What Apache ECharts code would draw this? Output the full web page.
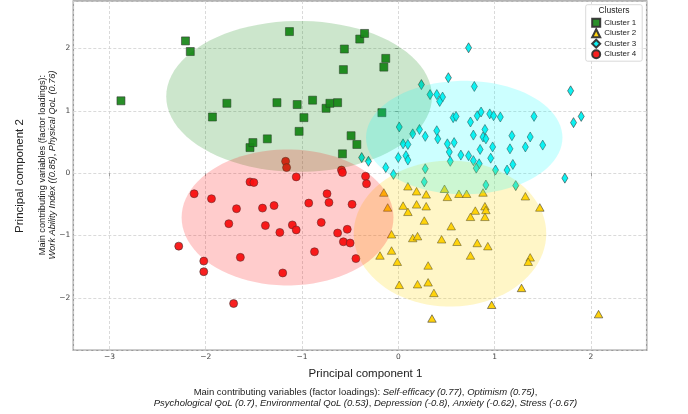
<!DOCTYPE html>
<html>
<head>
<meta charset="utf-8">
<script src="https://cdn.jsdelivr.net/npm/echarts@6/dist/echarts.min.js"></script>
<style>
  html, body { margin: 0; padding: 0; background: #fff; }
  #main { width: 688px; height: 414px; }
</style>
</head>
<body>
<div id="main"></div>
<script>
// PCA scores per cluster, [PC1, PC2]
const cluster1 = [
  [-2.88, 1.16], [-2.21, 2.12], [-2.16, 1.95], [-1.93, 0.90], [-1.78, 1.12],
  [-1.54, 0.41], [-1.51, 0.49], [-1.36, 0.55], [-1.26, 1.13], [-1.13, 2.27],
  [-1.05, 1.10], [-0.98, 0.89], [-1.03, 0.67], [-0.89, 1.17], [-0.75, 1.04],
  [-0.71, 1.12], [-0.63, 1.13], [-0.56, 1.99], [-0.57, 1.66], [-0.40, 2.15],
  [-0.35, 2.24], [-0.13, 1.84], [-0.15, 1.70], [-0.17, 0.97], [-0.49, 0.60],
  [-0.43, 0.46], [-0.58, 0.31]
];
const cluster2 = [
  [-0.15, -0.31], [-0.11, -0.55], [0.10, -0.21], [0.19, -0.29], [0.29, -0.34],
  [0.48, -0.25], [0.51, -0.38], [0.63, -0.33], [0.71, -0.33], [0.88, -0.31],
  [0.05, -0.52], [0.10, -0.62], [0.19, -0.50], [0.29, -0.53], [0.27, -0.76],
  [0.55, -0.85], [0.80, -0.60], [0.75, -0.70], [0.90, -0.53], [0.91, -0.59],
  [0.90, -0.70], [-0.07, -0.98], [0.15, -1.04], [0.20, -1.01], [0.45, -1.06],
  [0.61, -1.10], [0.82, -1.12], [0.93, -1.17], [-0.07, -1.24], [-0.19, -1.32],
  [-0.01, -1.42], [0.31, -1.48], [0.75, -1.32], [0.01, -1.79], [0.20, -1.78],
  [0.31, -1.75], [0.37, -1.92], [0.97, -2.11], [0.35, -2.33], [1.32, -0.37],
  [1.47, -0.55], [1.37, -1.35], [1.35, -1.42], [1.28, -1.84], [2.08, -2.26]
];
const cluster3 = [
  [0.73, 2.01], [0.52, 1.53], [0.24, 1.42], [0.79, 1.39], [1.79, 1.32],
  [0.33, 1.26], [0.40, 1.26], [0.46, 1.22], [0.43, 1.15], [0.57, 0.89],
  [0.60, 0.91], [0.75, 0.82], [0.82, 0.92], [0.86, 0.98], [0.95, 0.95],
  [0.99, 0.92], [1.06, 0.90], [1.41, 0.91], [1.82, 0.81], [1.90, 0.91],
  [0.01, 0.74], [0.15, 0.63], [0.22, 0.70], [0.28, 0.59], [0.40, 0.68],
  [0.41, 0.55], [0.78, 0.61], [0.90, 0.70], [0.88, 0.58], [0.91, 0.55],
  [1.18, 0.60], [1.37, 0.58], [0.05, 0.47], [0.10, 0.46], [0.51, 0.47],
  [0.58, 0.49], [0.85, 0.38], [0.98, 0.42], [1.16, 0.39], [1.32, 0.42],
  [1.50, 0.45], [-0.38, 0.25], [-0.31, 0.19], [0.00, 0.25], [0.08, 0.28],
  [0.10, 0.21], [0.53, 0.34], [0.54, 0.19], [0.65, 0.29], [0.73, 0.28],
  [0.78, 0.20], [0.84, 0.15], [0.81, 0.08], [0.96, 0.24], [1.01, 0.05],
  [1.13, 0.05], [1.19, 0.14], [-0.13, 0.09], [-0.05, -0.02], [0.28, 0.07],
  [0.27, -0.14], [0.91, -0.19], [1.22, -0.20], [1.73, -0.08]
];
const cluster4 = [
  [-1.17, 0.19], [-1.16, 0.09], [-1.06, -0.06], [-1.54, -0.14], [-1.50, -0.15],
  [-2.12, -0.33], [-1.94, -0.41], [-1.68, -0.57], [-1.41, -0.56], [-1.29, -0.52],
  [-0.93, -0.48], [-0.74, -0.33], [-0.72, -0.47], [-1.76, -0.81], [-1.38, -0.84],
  [-1.23, -0.95], [-1.10, -0.83], [-1.06, -0.91], [-0.80, -0.79], [-2.28, -1.17],
  [-2.02, -1.41], [-2.02, -1.58], [-1.64, -1.35], [-1.20, -1.60], [-0.87, -1.26],
  [-1.71, -2.09], [-0.59, 0.05], [-0.58, 0.01], [-0.34, -0.05], [-0.33, -0.17],
  [-0.48, -0.50], [-0.53, -0.90], [-0.63, -0.96], [-0.57, -1.10], [-0.50, -1.12],
  [-0.44, -1.37]
];

// cluster ellipses: [centre x, centre y, half width, half height]
const ellipses = [
  [-1.03, 1.23, 1.38, 1.21],
  [0.537, -0.97, 1.00, 1.17],
  [0.685, 0.57, 1.02, 0.91],
  [-1.15, -0.71, 1.10, 1.09]
];
const clusterNames = ['Cluster 1', 'Cluster 2', 'Cluster 3', 'Cluster 4'];
const markerColors = ['#1E891E', '#FFD000', '#00F0F0', '#F81414'];
const ellipseColors = [
  'rgba(0,128,0,0.2)', 'rgba(255,215,0,0.22)',
  'rgba(0,255,255,0.2)', 'rgba(255,0,0,0.2)'
];

const xRange = [-3.375, 2.58];
const yRange = [-2.84, 2.76];

const outerFont = '"Liberation Sans", Arial, sans-serif';
const innerFont = '"DejaVu Sans", sans-serif';

var myChart = echarts.init(document.getElementById('main'), null, { renderer: 'canvas' });

function minusLabel(v) {
  return v < 0 ? '\u2212' + Math.abs(v) : String(v);
}

function renderEllipse(params, api) {
  const cx = api.value(0), cy = api.value(1), rx = api.value(2), ry = api.value(3);
  const pts = [];
  for (let k = 0; k < 90; k++) {
    const t = k / 90 * Math.PI * 2;
    pts.push(api.coord([cx + rx * Math.cos(t), cy + ry * Math.sin(t)]));
  }
  return {
    type: 'polygon',
    shape: { points: pts },
    style: { fill: ellipseColors[params.dataIndex] },
    silent: true
  };
}

const axisCommon = {
  type: 'value',
  splitLine: { show: true, lineStyle: { color: '#d0d0d0', width: 0.8, type: [3, 2] } },
  axisLine: { show: false },
  axisTick: { show: true, length: 3, lineStyle: { color: '#888', width: 0.8 } },
  axisLabel: {
    fontSize: 7.5, color: '#444', fontFamily: innerFont, margin: 3,
    showMinLabel: false, showMaxLabel: false, formatter: minusLabel
  }
};

const symbols = ['rect', 'triangle', 'diamond', 'circle'];
const sizes = [8, [8.5, 7.5], [6, 10], 8];
const allClusters = [cluster1, cluster2, cluster3, cluster4];

const scatterSeries = allClusters.map(function (data, i) {
  return {
    name: clusterNames[i],
    type: 'scatter',
    data: data,
    symbol: symbols[i],
    symbolSize: sizes[i],
    z: 2,
    itemStyle: { color: markerColors[i], borderColor: '#333', borderWidth: 0.6, opacity: 0.95 }
  };
});

const richText = {
  n: { fontSize: 9.5, fontFamily: outerFont, fill: '#222' },
  i: { fontSize: 9.5, fontFamily: outerFont, fontStyle: 'italic', fill: '#222' }
};
const richTextY = {
  n: { fontSize: 9.2, fontFamily: outerFont, fill: '#222' },
  i: { fontSize: 9.2, fontFamily: outerFont, fontStyle: 'italic', fill: '#222' }
};

var option = {
  animation: false,
  backgroundColor: '#fff',
  grid: {
    left: 73.3, right: 41.3, top: 1, bottom: 63.7,
    show: true, borderColor: '#9a9a9a', borderWidth: 1.5, backgroundColor: 'transparent'
  },
  xAxis: Object.assign({}, axisCommon, { min: xRange[0], max: xRange[1] }),
  yAxis: Object.assign({}, axisCommon, { min: yRange[0], max: yRange[1] }),
  legend: {
    data: clusterNames,
    orient: 'vertical',
    left: 585.7, top: 4.7,
    padding: [13, 6, 2, 5.5],
    itemGap: 0.5,
    itemWidth: 8, itemHeight: 8,
    borderColor: '#cfcfcf', borderWidth: 0.8, borderRadius: 2,
    backgroundColor: 'rgba(255,255,255,0.85)',
    textStyle: { fontSize: 8, color: '#222', fontFamily: outerFont, padding: [0, 0, 0, -1] }
  },
  graphic: [
    { type: 'text', x: 614, y: 10.5, z: 100,
      style: { text: 'Clusters', font: '8.5px ' + outerFont, fill: '#222',
        textAlign: 'center', textVerticalAlign: 'middle' } },
    { type: 'text', x: 365.5, y: 373.7,
      style: { text: 'Principal component 1', font: '11.5px ' + outerFont, fill: '#222',
        textAlign: 'center', textVerticalAlign: 'middle' } },
    { type: 'text', x: 365.5, y: 392,
      style: {
        text: '{n|Main contributing variables (factor loadings): }{i|Self-efficacy (0.77)}{n|, }{i|Optimism (0.75)}{n|,}',
        textAlign: 'center', textVerticalAlign: 'middle', rich: richText
      } },
    { type: 'text', x: 365.5, y: 403.7,
      style: {
        text: '{i|Psychological QoL (0.7)}{n|, }{i|Environmental QoL (0.53)}{n|, }{i|Depression (-0.8)}{n|, }{i|Anxiety (-0.62)}{n|, }{i|Stress (-0.67)}',
        textAlign: 'center', textVerticalAlign: 'middle', rich: richText
      } },
    { type: 'text', x: 20, y: 176, rotation: Math.PI / 2,
      style: { text: 'Principal component 2', font: '11.5px ' + outerFont, fill: '#222',
        textAlign: 'center', textVerticalAlign: 'middle' } },
    { type: 'text', x: 42.5, y: 165, rotation: Math.PI / 2,
      style: {
        text: '{n|Main contributing variables (factor loadings):}',
        textAlign: 'center', textVerticalAlign: 'middle', rich: richTextY
      } },
    { type: 'text', x: 52.5, y: 165, rotation: Math.PI / 2,
      style: {
        text: '{i|Work Ability Index ((0.85)}{n|, }{i|Physical QoL (0.76)}',
        textAlign: 'center', textVerticalAlign: 'middle', rich: richTextY
      } }
  ],
  series: scatterSeries.concat([{
    name: 'ellipses',
    type: 'custom',
    renderItem: renderEllipse,
    data: ellipses,
    encode: { x: 0, y: 1 },
    z: 3,
    silent: true
  }])
};

myChart.setOption(option);
</script>
</body>
</html>
